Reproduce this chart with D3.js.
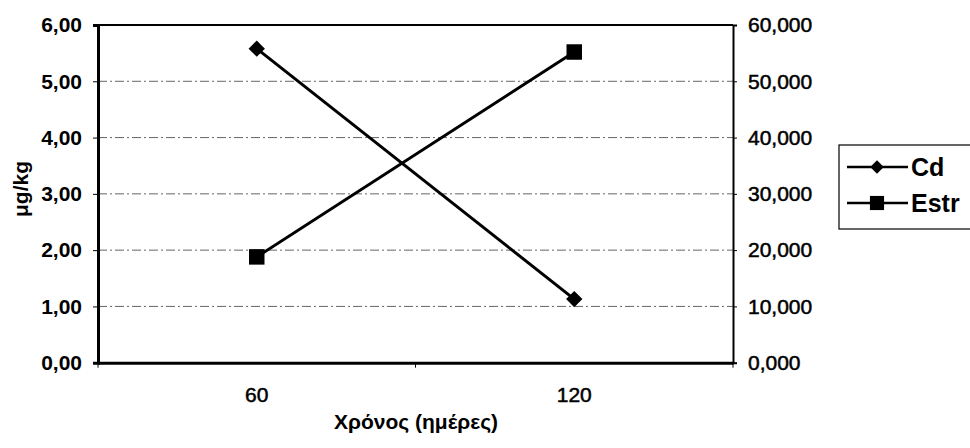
<!DOCTYPE html>
<html><head><meta charset="utf-8">
<script src="https://cdn.jsdelivr.net/npm/d3@7"></script>
<style>
body{margin:0;background:#fff;}
svg{display:block;font-family:"Liberation Sans",Arial,sans-serif;}
</style></head>
<body>
<svg id="chart" width="970" height="448"></svg>
<script>
const categories = ["60", "120"];
const cdValues = [5.58, 1.13];
const estrValues = [18800, 55200];
const leftTicks = [0, 1, 2, 3, 4, 5, 6];
const rightTicks = [0, 10000, 20000, 30000, 40000, 50000, 60000];
const seriesNames = ["Cd", "Estr"];
const yTitle = "μg/kg";
const xTitle = "Χρόνος (ημέρες)";

const svg = d3.select("#chart");
const L = 98, R = 733, T = 25, B = 362.7;

const x = d3.scaleBand().domain(categories).range([L, R]);
const yL = d3.scaleLinear().domain([0, 6]).range([B, T]);
const yR = d3.scaleLinear().domain([0, 60000]).range([B, T]);

// gridlines
svg.append("g").selectAll("line").data(leftTicks.filter(d => d > 0 && d < 6)).join("line")
  .attr("x1", L).attr("x2", R).attr("y1", d => yL(d)).attr("y2", d => yL(d))
  .attr("stroke", "#666").attr("stroke-width", 1).attr("stroke-dasharray", "9,3,2,3");

// frame top
svg.append("line").attr("x1", L).attr("x2", R).attr("y1", T).attr("y2", T).attr("stroke", "#000").attr("stroke-width", 2);

const fmtL = d => d3.format(".2f")(d).replace(".", ",");
const fmtR = d => d3.format(",.3f")(d / 1000).replace(".", ",");

// left axis
const gL = svg.append("g").attr("transform", `translate(${L},0)`)
  .call(d3.axisLeft(yL).tickValues(leftTicks).tickFormat(fmtL).tickSize(5).tickPadding(11));
gL.select(".domain").attr("stroke-width", 3);
gL.selectAll("text").attr("font-size", 21).attr("font-weight", "bold").attr("fill", "#000");

// right axis
const gR = svg.append("g").attr("transform", `translate(${R},0)`)
  .call(d3.axisRight(yR).tickValues(rightTicks).tickFormat(fmtR).tickSize(4).tickPadding(11));
gR.select(".domain").attr("stroke-width", 2);
gR.selectAll("text").attr("font-size", 21).attr("fill", "#000").attr("stroke", "#000").attr("stroke-width", 0.5);

// bottom axis
const gB = svg.append("g").attr("transform", `translate(0,${B})`)
  .call(d3.axisBottom(x).tickSize(0).tickPadding(24));
gB.select(".domain").attr("stroke-width", 3);
gB.selectAll("text").attr("font-size", 21).attr("fill", "#000").attr("stroke", "#000").attr("stroke-width", 0.5);
svg.append("g").selectAll("line").data([L, (L + R) / 2, R]).join("line")
  .attr("x1", d => d).attr("x2", d => d).attr("y1", B).attr("y2", B + 5)
  .attr("stroke", "#000").attr("stroke-width", 1);

// titles
svg.append("text").attr("x", 416).attr("y", 429).attr("text-anchor", "middle")
  .attr("font-size", 21).attr("font-weight", "bold").text(xTitle);
svg.append("text").attr("transform", "translate(28,189) rotate(-90)").attr("text-anchor", "middle")
  .attr("font-size", 21).attr("font-weight", "bold").text(yTitle);

const cx = d => x(d) + x.bandwidth() / 2;
const diamond = d3.symbol().type(d3.symbolDiamond2).size(170);
const square = d3.symbol().type(d3.symbolSquare).size(240);

const cdData = categories.map((c, i) => ({c, v: cdValues[i]}));
const estrData = categories.map((c, i) => ({c, v: estrValues[i]}));
svg.append("path").datum(cdData)
  .attr("d", d3.line().x(d => cx(d.c)).y(d => yL(d.v)))
  .attr("fill", "none").attr("stroke", "#000").attr("stroke-width", 3);
svg.append("path").datum(estrData)
  .attr("d", d3.line().x(d => cx(d.c)).y(d => yR(d.v)))
  .attr("fill", "none").attr("stroke", "#000").attr("stroke-width", 3);
svg.append("g").selectAll("path").data(cdData).join("path")
  .attr("transform", d => `translate(${cx(d.c)},${yL(d.v)})`).attr("d", diamond).attr("fill", "#000");
svg.append("g").selectAll("path").data(estrData).join("path")
  .attr("transform", d => `translate(${cx(d.c)},${yR(d.v)})`).attr("d", square).attr("fill", "#000");

// legend
const lg = svg.append("g");
lg.append("rect").attr("x", 839).attr("y", 145).attr("width", 140).attr("height", 84)
  .attr("fill", "#fff").attr("stroke", "#000").attr("stroke-width", 1.2);
const rows = [{n: seriesNames[0], sym: d3.symbol().type(d3.symbolDiamond2).size(115), y: 167},
              {n: seriesNames[1], sym: d3.symbol().type(d3.symbolSquare).size(200), y: 203}];
rows.forEach(r => {
  lg.append("line").attr("x1", 847).attr("x2", 908).attr("y1", r.y).attr("y2", r.y).attr("stroke", "#000").attr("stroke-width", 2.5);
  lg.append("path").attr("transform", `translate(877,${r.y})`).attr("d", r.sym).attr("fill", "#000");
  lg.append("text").attr("x", 911).attr("y", r.y + 9).attr("font-size", 25).attr("font-weight", "bold").text(r.n);
});
</script>
</body></html>
